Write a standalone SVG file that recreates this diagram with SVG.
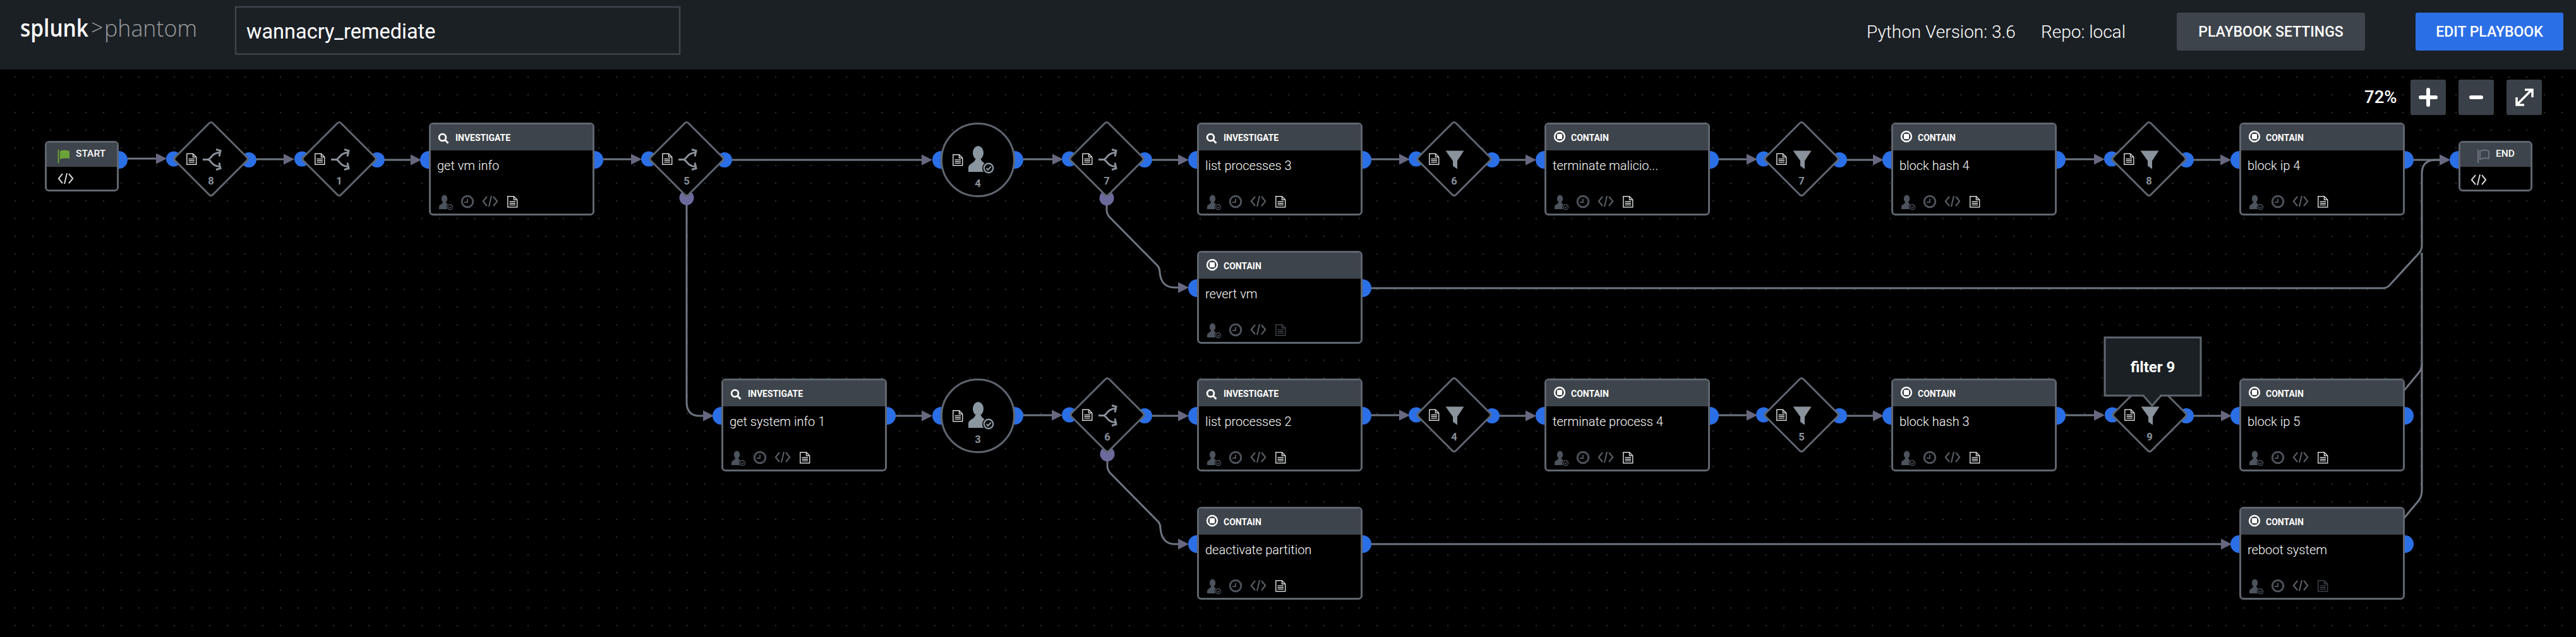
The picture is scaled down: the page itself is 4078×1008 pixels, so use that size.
<svg xmlns="http://www.w3.org/2000/svg" width="4078" height="1008" viewBox="0 0 4078 1008">
<style>
text{font-family:Roboto,"Liberation Sans",sans-serif}
.port{fill:#2b6fe6}
.oport{fill:#6c6a9c}
.box{fill:#000;stroke:#5f666f;stroke-width:3}
.hdr{fill:#3e444b}
.kind{font-size:14px;font-weight:700;fill:#fff}
.cap{font-size:15.5px;font-weight:500;fill:#fff}
.name{font-size:20px;font-weight:300;fill:#fff}
.num{font-size:16.5px;font-weight:700;fill:#8a929b;text-anchor:middle}
.shape{fill:#000;stroke:#5f666f;stroke-width:3}
.lit{color:#d2d4d6}
.dim{color:#3d4249}
.code{color:#d2d4d6}
.ftcode{color:#5c626a}
.ftuser{color:#4d535c}
.conn{fill:none;stroke:#6e7681;stroke-width:3;marker-end:url(#arrow)}
.wire{fill:none;stroke:#6e7681;stroke-width:3}
.hbtn{font-size:23px;font-weight:500;fill:#fff;text-anchor:middle}
.hinfo{font-size:28px;font-weight:300;fill:#fff}
.zbtn{fill:#3a4047}
</style>
<defs>
<pattern id="dots" x="10" y="108" width="28" height="28" patternUnits="userSpaceOnUse"><circle cx="14" cy="14" r="1.300" fill="#26292c"/></pattern>
<marker id="arrow" markerUnits="userSpaceOnUse" markerWidth="18" markerHeight="20" refX="0" refY="9" orient="auto"><path d="M0 .5L17 9L0 17.5Z" fill="#676880"/></marker>
<g id="doc" fill="none" stroke="currentColor" stroke-width="1.5"><path d="M.8.8H10.5L15.7 6V17.7H.8Z"/><path d="M10.5.8V6H15.7"/><path d="M3.5 9H13M3.5 11.7H13M3.5 14.4H13" stroke-width="1.4"/></g>
<path id="dia" class="shape" d="M-3.5-56Q0-60 3.5-56L56-3.5Q60 0 56 3.5L3.5 56Q0 60-3.5 56L-56 3.5Q-60 0-56-3.5Z"/>
<g id="split" fill="none" stroke="#8a929b" stroke-width="3"><path d="M0 0H8C13 0 14-11 27-11M8 0C13 0 14 11 27 11"/><path d="M21-16L28-14L26-5M21 16L28 14L26 5"/></g>
<path id="funnel" fill="#8a929b" d="M-14.5-13H14.5L4 3V16L-3 11V3Z"/>
<g id="user"><ellipse cx="15.5" cy="10" rx="8.5" ry="11" fill="currentColor"/><path fill="currentColor" d="M0 40V33C0 27 10 26 11 20H20C21 26 31 27 31 33V40Z"/><circle cx="32" cy="34" r="10" fill="#000"/><circle cx="32" cy="34" r="7.2" fill="none" stroke="currentColor" stroke-width="2.4"/><path d="M28.5 34L31 36.8L35.8 31.5" fill="none" stroke="currentColor" stroke-width="2.2"/></g>
<g id="code" fill="none" stroke="currentColor" stroke-width="2"><path d="M7 1L.8 8.5L7 16M17 1L23.2 8.5L17 16M14 0L10 17"/></g>
<g id="clock" fill="none" stroke="#4d535c" stroke-width="3"><circle r="8.8"/><path d="M0-4.5V1H-5" stroke-width="2"/></g>
<g id="foot"><use href="#user" class="ftuser" transform="translate(16 115) scale(.55)"/><use href="#clock" x="61" y="125"/><use href="#code" class="ftcode" x="85" y="116"/></g>
<g id="search" fill="none" stroke="#fff" stroke-width="2.8"><circle cx="6.5" cy="6.5" r="5.4"/><path d="M10.5 10.5L15.5 15.5"/></g>
<g id="contain"><circle r="8" fill="none" stroke="#fff" stroke-width="2.4"/><rect x="-4" y="-4" width="8" height="8" rx="1" fill="#fff"/></g>
</defs>

<rect width="4078" height="1008" fill="#000"/>
<rect y="110" width="4078" height="898" fill="url(#dots)"/>

<g id="topbar">
<rect width="4078" height="110" fill="#1b2025"/>
<text x="32" y="58" font-size="37" font-weight="600" fill="#fff" style="font-family:'Open Sans',sans-serif" textLength="108" lengthAdjust="spacingAndGlyphs">splunk</text>
<text x="144" y="56" font-size="34" font-weight="300" fill="#9a9c9c" style="font-family:'Open Sans',sans-serif">&gt;</text>
<text x="165" y="58" font-size="37" font-weight="300" fill="#9a9c9c" style="font-family:'Open Sans',sans-serif" textLength="147" lengthAdjust="spacingAndGlyphs">phantom</text>
<rect x="373" y="11" width="703" height="74.500" fill="#1b2025" stroke="#3e444b" stroke-width="2.500"/>
<text x="390" y="61" font-size="32.500" fill="#fff">wannacry_remediate</text>
<text x="2955" y="60" class="hinfo">Python Version: 3.6</text>
<text x="3231" y="60" class="hinfo">Repo: local</text>
<rect x="3446" y="20" width="298" height="60" rx="3" fill="#3e444b"/>
<text x="3595" y="58" class="hbtn">PLAYBOOK SETTINGS</text>
<rect x="3824" y="20" width="234" height="60" rx="3" fill="#2b6fe6"/>
<text x="3941" y="58" class="hbtn">EDIT PLAYBOOK</text>
</g>

<g id="zoom-controls">
<text x="3743" y="163" font-size="27.500" font-weight="500" fill="#fff">72%</text>
<rect class="zbtn" x="3816" y="126" width="56" height="56" rx="3"/>
<path d="M3844 142V166M3832 154H3856" stroke="#fff" stroke-width="6" stroke-linecap="round" fill="none"/>
<rect class="zbtn" x="3892" y="126" width="56" height="56" rx="3"/>
<path d="M3912 154H3928" stroke="#fff" stroke-width="6" stroke-linecap="round" fill="none"/>
<rect class="zbtn" x="3968" y="126" width="56" height="56" rx="3"/>
<path d="M3985 165L4007 143M3997 142H4009V154M3984 154V166H3996" stroke="#fff" stroke-width="3.500" fill="none"/>
</g>

<g id="connectors">
<path class="conn" d="M202 251H247"/>
<path class="conn" d="M406 252H449"/>
<path class="conn" d="M608 253H650"/>
<path class="conn" d="M955 252H999"/>
<path class="conn" d="M1159 253H1459"/>
<path class="conn" d="M1620 252H1666"/>
<path class="conn" d="M1823 253H1865"/>
<path class="conn" d="M2170 252H2215"/>
<path class="conn" d="M2374 253H2415"/>
<path class="conn" d="M2720 252H2765"/>
<path class="conn" d="M2924 253H2965"/>
<path class="conn" d="M3269 252H3315"/>
<path class="conn" d="M3473 253H3515"/>
<path class="conn" d="M3820 253H3862"/>
<path class="conn" d="M1087 320V636Q1087 658 1107 658H1113"/>
<path class="conn" d="M1752 322V332Q1752 338 1756 343L1833 421Q1836 425 1836 431Q1838 455 1860 455H1865"/>
<path class="conn" d="M1417 658H1459"/>
<path class="conn" d="M1620 657H1665"/>
<path class="conn" d="M1824 658H1865"/>
<path class="conn" d="M2170 657H2215"/>
<path class="conn" d="M2374 658H2415"/>
<path class="conn" d="M2720 657H2765"/>
<path class="conn" d="M2924 658H2965"/>
<path class="conn" d="M3269 657H3315"/>
<path class="conn" d="M3473 658H3516"/>
<path class="conn" d="M1753 727V737Q1753 743 1757 748L1834 826Q1837 830 1837 836Q1839 861 1860 861H1865"/>
<path class="conn" d="M2170 861H3516"/>
<path class="conn" d="M2170 456H3772Q3780 456 3785 449L3829 401Q3834 396 3834 388V275Q3834 253 3856 253H3862"/>
<path class="wire" d="M3800 625L3829 590Q3834 584 3834 575V400"/>
<path class="wire" d="M3800 827L3829 792Q3834 786 3834 775V575"/>
</g>

<g id="start" transform="translate(71 223)">
<circle class="port" cx="117" cy="30" r="14"/>
<rect class="box" x="1.500" y="1.500" width="114" height="77" rx="5"/>
<path class="hdr" d="M3 41V7Q3 3 7 3H110Q114 3 114 7V41Z"/>
<path d="M21.500 14V35" stroke="#6aa338" stroke-width="2" fill="none"/>
<path d="M24 16Q31 13 39 16V28Q31 26 24 29Z" fill="#6aa338"/>
<text class="cap" x="49" y="25">START</text>
<use href="#code" class="code" x="21" y="51"/>
</g>
<g id="decision-8" transform="translate(334 251.500)"><circle class="port" cx="-59" r="12"/><circle class="port" cx="60" cy="1.500" r="12"/><use href="#dia"/><use href="#doc" class="lit" x="-39" y="-9"/><use href="#split" x="-13" y="1"/><text class="num" y="40">8</text></g>
<g id="decision-1" transform="translate(537 251.500)"><circle class="port" cx="-59" r="12"/><circle class="port" cx="60" cy="1.500" r="12"/><use href="#dia"/><use href="#doc" class="lit" x="-39" y="-9"/><use href="#split" x="-13" y="1"/><text class="num" y="40">1</text></g>
<g id="get-vm-info" transform="translate(679 194)"><circle class="port" cy="59" r="14"/><circle class="port" cx="262" cy="59" r="14"/><rect class="box" x="1.500" y="1.500" width="259" height="144" rx="5"/><path class="hdr" d="M3 44V7Q3 3 7 3H255Q259 3 259 7V44Z"/><use href="#search" x="15" y="17"/><text class="kind" x="42" y="29">INVESTIGATE</text><text class="name" x="13" y="75">get vm info</text><use href="#foot"/><use href="#doc" class="lit" x="124" y="116"/></g>
<g id="decision-5" transform="translate(1087 251.500)"><circle class="oport" cy="61.500" r="11.500"/><circle class="port" cx="-60" r="12"/><circle class="port" cx="60" cy="1.500" r="12"/><use href="#dia"/><use href="#doc" class="lit" x="-39" y="-9"/><use href="#split" x="-13" y="1"/><text class="num" y="40">5</text></g>
<g id="prompt-4" transform="translate(1548 253)"><circle class="port" cx="-58" r="14"/><circle class="port" cx="58" r="14"/><circle class="shape" r="57.500"/><use href="#doc" class="lit" x="-40" y="-9"/><use href="#user" style="color:#8a96a0" x="-15" y="-21"/><text class="num" y="43">4</text></g>
<g id="decision-7" transform="translate(1752 251.500)"><circle class="oport" cy="62" r="11.500"/><circle class="port" cx="-59" r="12"/><circle class="port" cx="60" cy="1.500" r="12"/><use href="#dia"/><use href="#doc" class="lit" x="-39" y="-9"/><use href="#split" x="-13" y="1"/><text class="num" y="40">7</text></g>
<g id="list-processes-3" transform="translate(1895 194)"><circle class="port" cy="59" r="14"/><circle class="port" cx="262" cy="59" r="14"/><rect class="box" x="1.500" y="1.500" width="259" height="144" rx="5"/><path class="hdr" d="M3 44V7Q3 3 7 3H255Q259 3 259 7V44Z"/><use href="#search" x="15" y="17"/><text class="kind" x="42" y="29">INVESTIGATE</text><text class="name" x="13" y="75">list processes 3</text><use href="#foot"/><use href="#doc" class="lit" x="124" y="116"/></g>
<g id="revert-vm" transform="translate(1895 397)"><circle class="port" cy="59" r="14"/><circle class="port" cx="262" cy="59" r="14"/><rect class="box" x="1.500" y="1.500" width="259" height="144" rx="5"/><path class="hdr" d="M3 44V7Q3 3 7 3H255Q259 3 259 7V44Z"/><use href="#contain" x="24" y="22"/><text class="kind" x="42" y="29">CONTAIN</text><text class="name" x="13" y="75">revert vm</text><use href="#foot"/><use href="#doc" class="dim" x="124" y="116"/></g>
<g id="filter-6" transform="translate(2302 251.500)"><circle class="port" cx="-60" r="12"/><circle class="port" cx="60" cy="1.500" r="12"/><use href="#dia"/><use href="#doc" class="lit" x="-40" y="-9"/><use href="#funnel" x="1"/><text class="num" y="40">6</text></g>
<g id="terminate-malicio" transform="translate(2445 194)"><circle class="port" cy="59" r="14"/><circle class="port" cx="262" cy="59" r="14"/><rect class="box" x="1.500" y="1.500" width="259" height="144" rx="5"/><path class="hdr" d="M3 44V7Q3 3 7 3H255Q259 3 259 7V44Z"/><use href="#contain" x="24" y="22"/><text class="kind" x="42" y="29">CONTAIN</text><text class="name" x="13" y="75">terminate malicio...</text><use href="#foot"/><use href="#doc" class="lit" x="124" y="116"/></g>
<g id="filter-7" transform="translate(2852 251.500)"><circle class="port" cx="-60" r="12"/><circle class="port" cx="60" cy="1.500" r="12"/><use href="#dia"/><use href="#doc" class="lit" x="-40" y="-9"/><use href="#funnel" x="1"/><text class="num" y="40">7</text></g>
<g id="block-hash-4" transform="translate(2994 194)"><circle class="port" cy="59" r="14"/><circle class="port" cx="262" cy="59" r="14"/><rect class="box" x="1.500" y="1.500" width="259" height="144" rx="5"/><path class="hdr" d="M3 44V7Q3 3 7 3H255Q259 3 259 7V44Z"/><use href="#contain" x="24" y="22"/><text class="kind" x="42" y="29">CONTAIN</text><text class="name" x="13" y="75">block hash 4</text><use href="#foot"/><use href="#doc" class="lit" x="124" y="116"/></g>
<g id="filter-8" transform="translate(3402 251.500)"><circle class="port" cx="-59" r="12"/><circle class="port" cx="59" cy="1.500" r="12"/><use href="#dia"/><use href="#doc" class="lit" x="-40" y="-9"/><use href="#funnel" x="1"/><text class="num" y="40">8</text></g>
<g id="block-ip-4" transform="translate(3545 194)"><circle class="port" cy="59" r="14"/><circle class="port" cx="262" cy="59" r="14"/><rect class="box" x="1.500" y="1.500" width="259" height="144" rx="5"/><path class="hdr" d="M3 44V7Q3 3 7 3H255Q259 3 259 7V44Z"/><use href="#contain" x="24" y="22"/><text class="kind" x="42" y="29">CONTAIN</text><text class="name" x="13" y="75">block ip 4</text><use href="#foot"/><use href="#doc" class="lit" x="124" y="116"/></g>
<g id="end" transform="translate(3892 223)"><circle class="port" cy="30" r="14"/><rect class="box" x="1.500" y="1.500" width="114" height="77" rx="5"/><path class="hdr" d="M3 41V7Q3 3 7 3H110Q114 3 114 7V41Z"/><path d="M31 14V35" stroke="#6f7680" stroke-width="2" fill="none"/><path d="M34 16Q41 13 48 16V28Q41 26 34 29Z" fill="none" stroke="#6f7680" stroke-width="1.800"/><text class="cap" x="59" y="25">END</text><use href="#code" class="code" x="20" y="53"/></g>

<g id="get-system-info-1" transform="translate(1142 599)"><circle class="port" cy="59" r="14"/><circle class="port" cx="262" cy="59" r="14"/><rect class="box" x="1.500" y="1.500" width="259" height="144" rx="5"/><path class="hdr" d="M3 44V7Q3 3 7 3H255Q259 3 259 7V44Z"/><use href="#search" x="15" y="17"/><text class="kind" x="42" y="29">INVESTIGATE</text><text class="name" x="13" y="75">get system info 1</text><use href="#foot"/><use href="#doc" class="lit" x="124" y="116"/></g>
<g id="prompt-3" transform="translate(1548 658)"><circle class="port" cx="-58" r="14"/><circle class="port" cx="58" r="14"/><circle class="shape" r="57.500"/><use href="#doc" class="lit" x="-40" y="-9"/><use href="#user" style="color:#8a96a0" x="-15" y="-21"/><text class="num" y="43">3</text></g>
<g id="decision-6" transform="translate(1753 656.500)"><circle class="oport" cy="62" r="11.500"/><circle class="port" cx="-60" r="12"/><circle class="port" cx="59" cy="1.500" r="12"/><use href="#dia"/><use href="#doc" class="lit" x="-40" y="-9"/><use href="#split" x="-14" y="1"/><text class="num" y="40">6</text></g>
<g id="list-processes-2" transform="translate(1895 599)"><circle class="port" cy="59" r="14"/><circle class="port" cx="262" cy="59" r="14"/><rect class="box" x="1.500" y="1.500" width="259" height="144" rx="5"/><path class="hdr" d="M3 44V7Q3 3 7 3H255Q259 3 259 7V44Z"/><use href="#search" x="15" y="17"/><text class="kind" x="42" y="29">INVESTIGATE</text><text class="name" x="13" y="75">list processes 2</text><use href="#foot"/><use href="#doc" class="lit" x="124" y="116"/></g>
<g id="deactivate-partition" transform="translate(1895 802)"><circle class="port" cy="59" r="14"/><circle class="port" cx="262" cy="59" r="14"/><rect class="box" x="1.500" y="1.500" width="259" height="144" rx="5"/><path class="hdr" d="M3 44V7Q3 3 7 3H255Q259 3 259 7V44Z"/><use href="#contain" x="24" y="22"/><text class="kind" x="42" y="29">CONTAIN</text><text class="name" x="13" y="75">deactivate partition</text><use href="#foot"/><use href="#doc" class="lit" x="124" y="116"/></g>
<g id="filter-4" transform="translate(2302 656.500)"><circle class="port" cx="-60" r="12"/><circle class="port" cx="60" cy="1.500" r="12"/><use href="#dia"/><use href="#doc" class="lit" x="-40" y="-9"/><use href="#funnel" x="1"/><text class="num" y="40">4</text></g>
<g id="terminate-process-4" transform="translate(2445 599)"><circle class="port" cy="59" r="14"/><circle class="port" cx="262" cy="59" r="14"/><rect class="box" x="1.500" y="1.500" width="259" height="144" rx="5"/><path class="hdr" d="M3 44V7Q3 3 7 3H255Q259 3 259 7V44Z"/><use href="#contain" x="24" y="22"/><text class="kind" x="42" y="29">CONTAIN</text><text class="name" x="13" y="75">terminate process 4</text><use href="#foot"/><use href="#doc" class="lit" x="124" y="116"/></g>
<g id="filter-5" transform="translate(2852 656.500)"><circle class="port" cx="-60" r="12"/><circle class="port" cx="60" cy="1.500" r="12"/><use href="#dia"/><use href="#doc" class="lit" x="-40" y="-9"/><use href="#funnel" x="1"/><text class="num" y="40">5</text></g>
<g id="block-hash-3" transform="translate(2994 599)"><circle class="port" cy="59" r="14"/><circle class="port" cx="262" cy="59" r="14"/><rect class="box" x="1.500" y="1.500" width="259" height="144" rx="5"/><path class="hdr" d="M3 44V7Q3 3 7 3H255Q259 3 259 7V44Z"/><use href="#contain" x="24" y="22"/><text class="kind" x="42" y="29">CONTAIN</text><text class="name" x="13" y="75">block hash 3</text><use href="#foot"/><use href="#doc" class="lit" x="124" y="116"/></g>
<g id="filter-9" transform="translate(3403 656.500)"><circle class="port" cx="-59" r="12"/><circle class="port" cx="58" cy="1.500" r="12"/><use href="#dia"/><use href="#doc" class="lit" x="-40" y="-9"/><use href="#funnel" x="1"/><text class="num" y="40">9</text></g>
<g id="block-ip-5" transform="translate(3545 599)"><circle class="port" cy="59" r="14"/><circle class="port" cx="262" cy="59" r="14"/><rect class="box" x="1.500" y="1.500" width="259" height="144" rx="5"/><path class="hdr" d="M3 44V7Q3 3 7 3H255Q259 3 259 7V44Z"/><use href="#contain" x="24" y="22"/><text class="kind" x="42" y="29">CONTAIN</text><text class="name" x="13" y="75">block ip 5</text><use href="#foot"/><use href="#doc" class="lit" x="124" y="116"/></g>
<g id="reboot-system" transform="translate(3545 802)"><circle class="port" cy="59" r="14"/><circle class="port" cx="262" cy="59" r="14"/><rect class="box" x="1.500" y="1.500" width="259" height="144" rx="5"/><path class="hdr" d="M3 44V7Q3 3 7 3H255Q259 3 259 7V44Z"/><use href="#contain" x="24" y="22"/><text class="kind" x="42" y="29">CONTAIN</text><text class="name" x="13" y="75">reboot system</text><use href="#foot"/><use href="#doc" class="dim" x="124" y="116"/></g>

<g id="tooltip-filter-9">
<rect x="3332" y="534" width="152" height="92" fill="#1b2025" stroke="#5f666f" stroke-width="3"/>
<path d="M3393 626L3407 642L3421 626" fill="#1b2025" stroke="#5f666f" stroke-width="3"/>
<path d="M3395 625.500H3419" stroke="#1b2025" stroke-width="3.500"/>
<text x="3408" y="589" font-size="24" font-weight="700" fill="#fff" text-anchor="middle">filter 9</text>
</g>
</svg>
